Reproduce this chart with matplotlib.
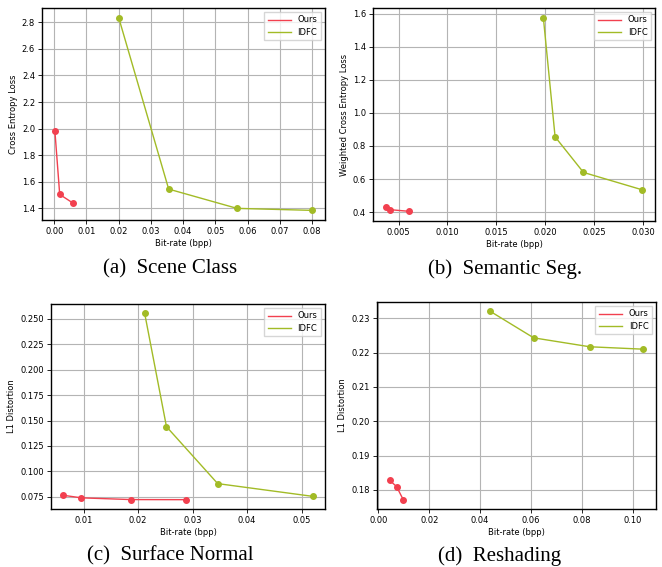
import matplotlib
matplotlib.use("Agg")
from matplotlib import pyplot as plt

# (a) Scene Class
a_ours_x = [0.0002, 0.0017, 0.0058]
a_ours_y = [1.985, 1.505, 1.44]
a_idfc_x = [0.020, 0.0355, 0.0567, 0.080]
a_idfc_y = [2.835, 1.545, 1.40, 1.385]

# (b) Semantic Seg.
b_ours_x = [0.0037, 0.0041, 0.0061]
b_ours_y = [0.43, 0.415, 0.405]
b_idfc_x = [0.0198, 0.0210, 0.0239, 0.0299]
b_idfc_y = [1.575, 0.855, 0.64, 0.535]

# (c) Surface Normal
c_ours_x = [0.0063, 0.0096, 0.0187, 0.0288]
c_ours_y = [0.0765, 0.0740, 0.0723, 0.0722]
c_idfc_x = [0.0212, 0.0252, 0.0346, 0.0520]
c_idfc_y = [0.2555, 0.144, 0.088, 0.0755]

# (d) Reshading
d_ours_x = [0.0045, 0.0072, 0.0098]
d_ours_y = [0.1828, 0.1810, 0.1772]
d_idfc_x = [0.044, 0.061, 0.083, 0.104]
d_idfc_y = [0.2320, 0.2243, 0.2217, 0.2210]

ylabels = ["Cross Entropy Loss", "Weighted Cross Entropy Loss", "L1 Distortion", "L1 Distortion"]
captions = ["(a)  Scene Class", "(b)  Semantic Seg.", "(c)  Surface Normal", "(d)  Reshading"]

RED = "#f2404f"
GREEN = "#a2bb26"

W, H = 662, 567
fig = plt.figure(figsize=(W / 100, H / 100), dpi=100)

# axes boxes in pixels: left, top, right, bottom
boxes = [(42, 8, 325, 220), (373, 8, 655, 221), (51, 304, 325, 509), (377, 302, 656, 509)]
data = [
    (a_ours_x, a_ours_y, a_idfc_x, a_idfc_y),
    (b_ours_x, b_ours_y, b_idfc_x, b_idfc_y),
    (c_ours_x, c_ours_y, c_idfc_x, c_idfc_y),
    (d_ours_x, d_ours_y, d_idfc_x, d_idfc_y),
]
cap_pos = [(170, 269), (505, 269), (170, 556), (500, 556)]

for i in range(4):
    l, t, r, b = boxes[i]
    ax = fig.add_axes([l / W, 1 - b / H, (r - l) / W, (b - t) / H])
    ox, oy, ix, iy = data[i]
    ax.plot(ox, oy, color=RED, lw=1.0, marker="o", ms=4, label="Ours")
    ax.plot(ix, iy, color=GREEN, lw=1.0, marker="o", ms=4, label="IDFC")
    ax.grid(True, color="#b4b4b4", lw=0.8)
    ax.set_axisbelow(True)
    ax.tick_params(labelsize=6, length=3, width=0.6, pad=2)
    ax.set_xlabel("Bit-rate (bpp)", fontsize=6, labelpad=2)
    ax.set_ylabel(ylabels[i], fontsize=6, labelpad=3)
    for s in ax.spines.values():
        s.set_linewidth(1.0)
    leg = ax.legend(loc="upper right", fontsize=6, handlelength=2.8, borderpad=0.4,
                    labelspacing=0.4, fancybox=False, edgecolor="#cccccc")
    for h in leg.get_lines():
        h.set_marker("")
    cx, cy = cap_pos[i]
    fig.text(cx / W, 1 - cy / H, captions[i], ha="center", va="center",
             fontsize=15, family="Liberation Serif")

fig.savefig("out.png", dpi=100)
